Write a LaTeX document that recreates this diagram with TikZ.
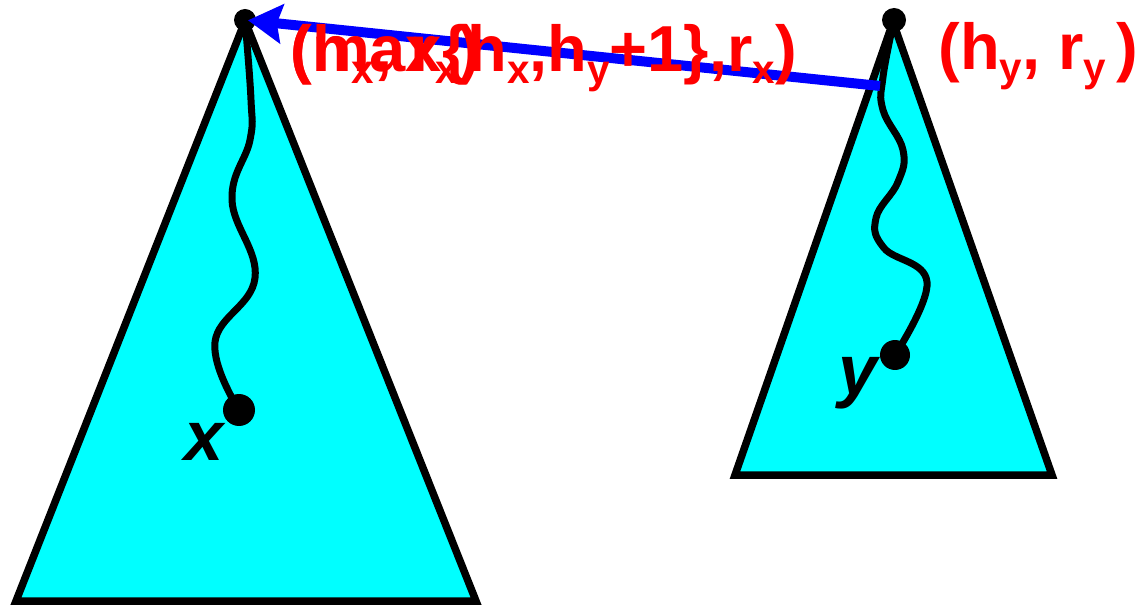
\documentclass[tikz,border=0pt]{standalone}
\usepackage{fontspec}
\setmainfont{Liberation Sans}
\usepackage{xcolor}
\usetikzlibrary{arrows.meta}

\definecolor{aqua}{RGB}{0,255,255}
\definecolor{pureblue}{RGB}{0,0,255}
\definecolor{purered}{RGB}{255,0,0}
\newcommand{\lowsub}[1]{\raisebox{-0.17em}{\fontsize{23}{24}\selectfont #1}}

\begin{document}
\begin{tikzpicture}[
    x=0.02cm, y=-0.02cm,
    tree/.style={draw=black, fill=aqua, line width=0.15cm, line join=miter},
    walk/.style={draw=black, line width=0.14cm, line cap=round},
    dot/.style={circle, fill=black, inner sep=0pt, minimum size=#1},
    lbl/.style={text=purered, font=\fontsize{37}{40}\selectfont\bfseries, inner sep=0pt, anchor=base west},
    var/.style={font=\fontsize{40}{44}\selectfont\bfseries\itshape, inner sep=0pt, anchor=base},
    link/.style={-{Stealth[length=0.68cm, width=0.78cm, inset=0.1cm]}, pureblue, line width=0.2cm}
]
\useasboundingbox (0,0) rectangle (1138,607);

% trees
\draw[tree] (245,21) -- (476,601) -- (16,601) -- cycle;
\draw[tree] (893,22) -- (1052,475) -- (735,475) -- cycle;

% roots and nodes
\node[dot=0.44cm] (rootx) at (245,20) {};
\node[dot=0.48cm] (rooty) at (894,20) {};
\node[dot=0.64cm] (x) at (239,410) {};
\node[dot=0.60cm] (y) at (895,355) {};

% paths to the roots
\draw[walk] plot[smooth, tension=0.7] coordinates {(rootx.center) (251,100) (250,140) (232,200) (255,278) (215,342) (x.center)};
\draw[walk] plot[smooth, tension=0.7] coordinates {(rooty.center) (883,77) (883,110) (903,150) (898,182) (876,218) (884,248) (927,282) (y.center)};

\node[var] (xlbl) at (204,460) {x};
\node[var] (ylbl) at (858,395) {y};

% union link
\coordinate (from) at (880,86);
\draw[link, shorten >=0.06cm] (from) -- (rootx.center);

% ranks
\node[lbl] (rankx) at (290,72) {(h\lowsub{x}, r\lowsub{x})};
\node[lbl] (rankmax) at (290,72) {(max\{h\lowsub{x},h\lowsub{y}+1\},r\lowsub{x})};
\node[lbl] (ranky) at (938,70) {(h\lowsub{y}, r\lowsub{y}\,)};

\end{tikzpicture}
\end{document}
